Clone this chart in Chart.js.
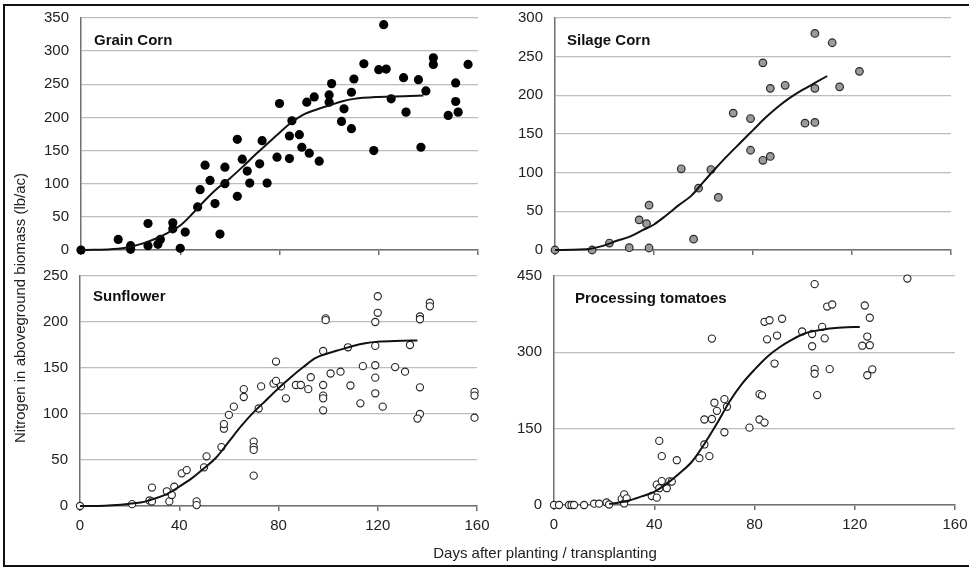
<!DOCTYPE html>
<html>
<head>
<meta charset="utf-8">
<script src="https://cdn.jsdelivr.net/npm/chart.js@4"></script>
<style>
  body { margin: 0; background: #fff; }
  #wrap { position: relative; width: 969px; height: 568px; overflow: hidden; font-family: 'Liberation Sans', Arial, sans-serif; }
  #wrap canvas { position: absolute; }
  .frame { position: absolute; left: 3px; top: 4px; width: 968px; height: 563px; border: 2px solid #111; box-sizing: border-box; }
  .ytitle { position: absolute; left: 19px; top: 308px; transform: translate(-50%, -50%) rotate(-90deg); white-space: nowrap; font-size: 15px; color: #222; }
  .xtitle { position: absolute; left: 545px; top: 552px; transform: translate(-50%, -50%); white-space: nowrap; font-size: 15px; color: #222; }
</style>
</head>
<body>
<div id="wrap">
  <canvas id="c1" width="500" height="262" style="left:0;top:0"></canvas>
  <canvas id="c3" width="500" height="306" style="left:0;top:262px"></canvas>
  <canvas id="c2" width="485" height="262" style="left:484px;top:0"></canvas>
  <canvas id="c4" width="485" height="306" style="left:484px;top:262px"></canvas>
  <div class="frame"></div>
  <div class="ytitle">Nitrogen in aboveground biomass (lb/ac)</div>
  <div class="xtitle">Days after planting / transplanting</div>
</div>
<script>
// --- DATOS ---
// Grain Corn
const gcDays = [0,15,20,20,27,27,31,32,37,37,40,42,47,48,50,52,54,56,58,58,63,63,65,67,68,72,73,75,79,80,84,84,85,88,89,92,91,94,96,100,100,101,105,106,109,109,110,114,118,120,122,123,125,130,131,136,137,139,142,142,148,151,151,152,156]
const gcN = [0,16,6.5,1,40,6.5,8.5,16,41,32,2.5,27,65,91,128,105,70,24,125,100,81,167,137,119,101,130,165,101,140,221,138,172,195,174,155,146,223,231,134,234,223,251,194,213,183,238,258,281,150,272,340,273,228,260,208,257,155,240,290,280,203,224,252,208,280]
const gcFitDays = [0,15,20,25,30,35,40,45,50,55,60,65,70,75,80,85,90,95,100,105,110,120,130,138]
const gcFitN = [0,2,5,10,17,26,37,55,75,93,108,125,143,160,177,193,205,212,218,224,228,231,232,233]

// Silage Corn
const scDays = [0,15,22,30,34,37,38,38,51,56,58,63,66,72,79,79,84,84,87,87,93,101,105,105,105,112,115,123]
const scN = [0,0,9,3,39,34,58,2.6,105,14,80,104,68,177,170,129,242,116,121,209,213,164,280,209,165,268,211,231]
const scFitDays = [0,10,15,20,25,30,35,40,45,50,55,60,65,70,75,80,85,90,95,100,105,110]
const scFitN = [0,0.5,2,6,12,17,25,33,45,58,70,88,106,123,139,155,171,185,197,207,216,225]

// Sunflower
const sfDays = [0,21,28,29,29,35,36,37,38,41,43,47,47,50,51,57,58,58,60,62,66,66,72,73,70,70,70,70,78,79,79,81,83,87,89,92,93,98,98,98,98,98,99,99,101,105,108,109,113,114,119,119,119,119,119,120,120,122,127,131,133,137,137,137,137,136,141,141,159,159,159]
const sfN = [0,2,6,5,20,16,5,12,21,35.5,39,5,1,42,54,64,84,89,99,108,127,118.5,106,130,70,64,61,33,133,157,136,130,117,131.5,131.5,127,140,168.5,131.5,120,117,104,204,202,144,146,172.5,131,111.6,152,200,174,153,139.5,122.5,228,210,108,151,146,175,129,206,203,100,95,221,217,124,120,96]
const sfFitDays = [0,10,15,20,25,30,35,40,45,50,55,60,65,70,75,80,85,90,95,100,105,110,115,120,130,136]
const sfFitN = [0,0.3,1,2.5,4,8,13,21,30,41,53,70,87,102,115,128,140,151,161,166,170,174,177,178.5,179.5,180]

// Processing tomatoes
const ptDays = [0,2,6,7,8,12,16,18,21,22,27,28,28,29,39,41,41,42,43,42,43,45,46,47,49,58,60,60,62,63,63,64,65,68,68,69,78,82,83,82,84,84,86,85,88,89,91,99,103,103,104,104,104,105,107,108,109,111,110,123,124,125,125,126,126,127,141]
const ptN = [0,0,0,0,0,0,2.6,2.6,5,1,12,21,3,13,17.7,14.4,40,33,47,126,96,33,46.5,46,88,92,119,168,96,327,169,201,185,143,208,193,152,218,215.5,168,162,360,363,325.5,278,333,366,341,336,312,434,267,258,216,350,327.5,390,394,267,313,392,331,255,368,314,266.6,445]
const ptFitDays = [22,26,30,35,40,45,50,55,60,65,70,75,80,85,90,95,100,105,110,115,122]
const ptFitN = [2,5,9,17,26,42,62,85,120,160,203,238,266,291,310,325,337,343,347,349,350]

const xTicks = [0, 40, 80, 120, 160]

// --- CONFIGURACIÓN VISUAL ---
const FONT = "'Liberation Sans', Arial, sans-serif"
const axisColor = '#6f6f6f'
const gridColor = '#bdbdbd'

function toXY(xs, ys) {
  return xs.map((x, i) => ({ x: x, y: ys[i] }))
}

// etiqueta en negrita dentro del área del gráfico
const panelLabel = {
  id: 'panelLabel',
  afterDraw(chart, args, opts) {
    const { ctx, chartArea } = chart
    ctx.save()
    ctx.font = 'bold 15px ' + FONT
    ctx.fillStyle = '#111'
    ctx.textBaseline = 'middle'
    ctx.fillText(opts.text, chartArea.left + opts.dx, chartArea.top + opts.dy)
    ctx.restore()
  }
}

function makePanel(id, cfg) {
  const canvas = document.getElementById(id)
  const W = canvas.width, H = canvas.height
  const a = cfg.area // left, top, right, bottom dentro del canvas
  return new Chart(canvas, {
    type: 'scatter',
    data: {
      datasets: [
        {
          data: toXY(cfg.fitDays, cfg.fitN),
          showLine: true,
          borderColor: '#111',
          borderWidth: 2,
          pointRadius: 0,
          cubicInterpolationMode: 'monotone',
          clip: false,
          order: 0
        },
        {
          data: toXY(cfg.days, cfg.n),
          pointRadius: cfg.radius,
          pointBackgroundColor: cfg.fill,
          pointBorderColor: cfg.stroke,
          pointBorderWidth: cfg.strokeW,
          clip: false,
          order: 1
        }
      ]
    },
    options: {
      responsive: false,
      animation: false,
      layout: { padding: { left: 0, top: a.top, right: W - a.right, bottom: 0 } },
      plugins: {
        legend: { display: false },
        tooltip: { enabled: false },
        panelLabel: cfg.label
      },
      scales: {
        x: {
          type: 'linear', min: 0, max: 160,
          afterBuildTicks: s => { s.ticks = xTicks.map(v => ({ value: v })) },
          afterFit: s => { s.height = H - a.bottom; s.paddingLeft = 0; s.paddingRight = 0 },
          ticks: { display: cfg.xLabels, padding: 6, color: '#222', font: { family: FONT, size: 15 } },
          grid: { drawOnChartArea: false, drawTicks: true, tickLength: 5, color: axisColor, lineWidth: 1.5 },
          border: { display: true, color: axisColor, width: 1.5 }
        },
        y: {
          min: 0, max: cfg.yMax,
          ticks: { stepSize: cfg.yStep, padding: 12, color: '#222', font: { family: FONT, size: 15 } },
          afterFit: s => { s.width = a.left; s.paddingTop = 0; s.paddingBottom = 0 },
          grid: { drawTicks: false, color: gridColor, lineWidth: 1.3 },
          border: { display: true, color: axisColor, width: 1.5 }
        }
      }
    },
    plugins: [panelLabel]
  })
}

makePanel('c1', {
  days: gcDays, n: gcN, fitDays: gcFitDays, fitN: gcFitN,
  yMax: 350, yStep: 50, xLabels: false,
  area: { left: 81, top: 18, right: 478, bottom: 250 },
  radius: 4.6, fill: '#000', stroke: '#000', strokeW: 0,
  label: { text: 'Grain Corn', dx: 13, dy: 23 }
})

makePanel('c2', {
  days: scDays, n: scN, fitDays: scFitDays, fitN: scFitN,
  yMax: 300, yStep: 50, xLabels: false,
  area: { left: 71, top: 18, right: 467, bottom: 250 },
  radius: 3.8, fill: '#9b9b9b', stroke: '#2a2a2a', strokeW: 1.2,
  label: { text: 'Silage Corn', dx: 12, dy: 23 }
})

makePanel('c3', {
  days: sfDays, n: sfN, fitDays: sfFitDays, fitN: sfFitN,
  yMax: 250, yStep: 50, xLabels: true,
  area: { left: 80, top: 14, right: 477, bottom: 244 },
  radius: 3.6, fill: '#fff', stroke: '#222', strokeW: 1.1,
  label: { text: 'Sunflower', dx: 13, dy: 21 }
})

makePanel('c4', {
  days: ptDays, n: ptN, fitDays: ptFitDays, fitN: ptFitN,
  yMax: 450, yStep: 150, xLabels: true,
  area: { left: 70, top: 14, right: 471, bottom: 243 },
  radius: 3.6, fill: '#fff', stroke: '#222', strokeW: 1.1,
  label: { text: 'Processing tomatoes', dx: 21, dy: 23 }
})
</script>
</body>
</html>
